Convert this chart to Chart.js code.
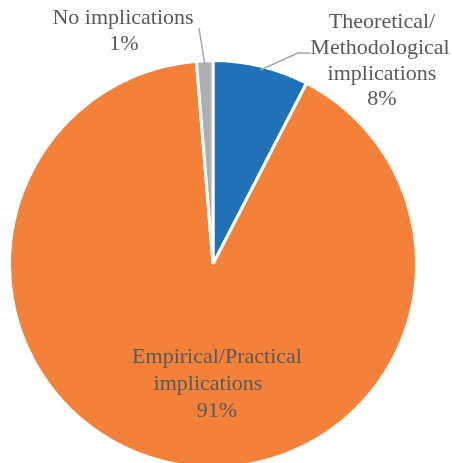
<!DOCTYPE html>
<html>
<head>
<meta charset="utf-8">
<script src="https://cdn.jsdelivr.net/npm/chart.js@4.4.0/dist/chart.umd.min.js"></script>
<style>
  html, body { margin: 0; padding: 0; background: #ffffff; overflow: hidden; }
  #wrap { position: relative; width: 452px; height: 470px; }
</style>
</head>
<body>
<div id="wrap"><canvas id="c"></canvas></div>
<script>
// Data
const categories = ["Theoretical/\nMethodological\nimplications", "Empirical/Practical\nimplications", "No implications"];
const values = [7.6, 91.1, 1.3];
const colors = ["#2171B9", "#F4813A", "#AEAFB2"];

const total = values.reduce((a, b) => a + b, 0);
const pctText = values.map(v => Math.round(v / total * 100) + "%");

// label placement (relative to pie center, in px) – layout only
const labelLayout = [
  { xs: [169, 167, 169, 169], ys: [-242, -216, -190, -165], leader: [[298 - 213, 53 - 264], [310 - 213, 53 - 264]] },
  { xs: [4, -5, 4],           ys: [93, 120, 147], leader: null },
  { xs: [-90, -89],           ys: [-246, -220], leader: [[199 - 213, 28 - 264]] }
];

const labelPlugin = {
  id: 'pieLabels',
  afterDatasetsDraw(chart) {
    const ctx = chart.ctx;
    const meta = chart.getDatasetMeta(0);
    ctx.save();
    ctx.font = '22px "Liberation Serif", "Times New Roman", serif';
    ctx.fillStyle = '#595959';
    ctx.textAlign = 'center';
    ctx.textBaseline = 'middle';
    meta.data.forEach((arc, i) => {
      const p = arc.getProps(['x', 'y', 'startAngle', 'endAngle', 'outerRadius'], true);
      const cx = p.x, cy = p.y;
      const lay = labelLayout[i];
      if (lay.leader) {
        const mid = (p.startAngle + p.endAngle) / 2;
        const r0 = p.outerRadius - 4;
        ctx.beginPath();
        ctx.strokeStyle = '#A6A6A6';
        ctx.lineWidth = 1.5;
        ctx.moveTo(cx + Math.cos(mid) * r0, cy + Math.sin(mid) * r0);
        lay.leader.forEach(pt => ctx.lineTo(cx + pt[0], cy + pt[1]));
        ctx.stroke();
      }
      const lines = categories[i].split("\n").concat([pctText[i]]);
      lines.forEach((t, k) => {
        ctx.fillText(t, cx + lay.xs[k], cy + lay.ys[k]);
      });
    });
    ctx.restore();
  }
};

new Chart(document.getElementById('c'), {
  type: 'pie',
  data: {
    labels: categories.map(c => c.replace(/\n/g, ' ')),
    datasets: [{
      data: values,
      backgroundColor: colors,
      borderColor: '#ffffff',
      borderWidth: 3,
      hoverOffset: 0
    }]
  },
  options: {
    responsive: true,
    maintainAspectRatio: false,
    animation: false,
    layout: { padding: { left: 8, right: 34, top: 59, bottom: 1 } },
    plugins: {
      legend: { display: false },
      tooltip: { enabled: false }
    }
  },
  plugins: [labelPlugin]
});
</script>
</body>
</html>
